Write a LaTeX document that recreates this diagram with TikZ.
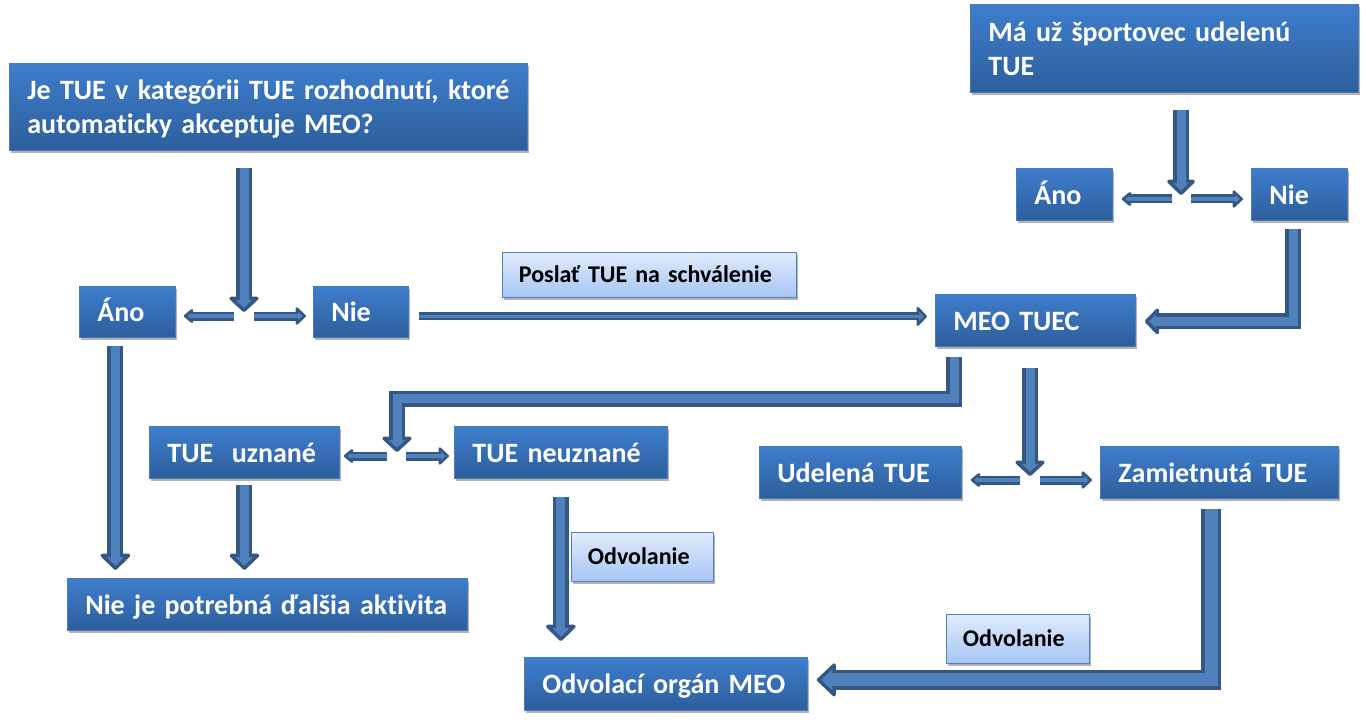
\documentclass[tikz,border=0pt]{standalone}
\usepackage{fontspec}
\setmainfont{Carlito}[Ligatures=NoCommon]
\usetikzlibrary{arrows.meta,calc,shadows}
\definecolor{boxtop}{RGB}{62,126,204}
\definecolor{boxbot}{RGB}{45,94,156}
\definecolor{boxedge}{RGB}{72,122,188}
\definecolor{afill}{RGB}{79,129,189}
\definecolor{aedge}{RGB}{52,87,131}
\definecolor{labtop}{RGB}{224,235,252}
\definecolor{labbot}{RGB}{166,197,245}
\definecolor{labedge}{RGB}{79,129,189}
\newcommand\blockarr[5]{%
  \pgfmathsetlengthmacro\arrinner{#2pt-2*#5pt}%
  \pgfmathsetlengthmacro\arrshort{#4pt-#5pt-1pt}%
  \draw[draw=aedge, line width=#2pt, line join=miter,
        -{Triangle[width=#3pt, length=#4pt, fill=afill, line width=#5pt, round]}] #1;
  \draw[draw=afill, line width=\arrinner, line join=miter, shorten >=\arrshort] #1;
}
\tikzset{
  bx/.style={draw=boxedge, line width=0.8pt, top color=boxtop, bottom color=boxbot,
    anchor=north west, inner xsep=18pt, inner ysep=0pt, align=left, text=white,
    font=\fontsize{28}{34}\selectfont\bfseries, text height=20pt, text depth=0pt,
    drop shadow={shadow xshift=2pt, shadow yshift=-3pt, opacity=0.3, fill=black}},
  twoline/.style={text depth=34pt},
  lab/.style={draw=labedge, line width=0.8pt, top color=labtop, bottom color=labbot,
    anchor=north west, inner xsep=16.5pt, inner ysep=0pt, align=left, text=black,
    font=\fontsize{24}{29}\selectfont\bfseries, text height=15.2pt, text depth=0pt,
    drop shadow={shadow xshift=2pt, shadow yshift=-3pt, opacity=0.3, fill=black}}
}
\begin{document}
\begin{tikzpicture}[x=1pt, y=-1pt]
\useasboundingbox (0,0) rectangle (1366,722);
% boxes
\node[bx, twoline, text width=482pt, minimum height=87pt] (q1) at (9,63)
  {\mbox{Je TUE v kategórii TUE rozhodnutí, ktoré}\\\mbox{automaticky akceptuje MEO?}};
\node[bx, twoline, text width=352pt, minimum height=88pt] (q2) at (970,4)
  {\mbox{Má už športovec udelenú}\\TUE};
\node[bx, text width=60pt, minimum height=51pt] (ano1) at (79,286) {Áno};
\node[bx, text width=59pt, minimum height=51pt] (nie1) at (313,286) {Nie};
\node[bx, text width=60pt, minimum height=52pt] (ano2) at (1016,168) {Áno};
\node[bx, text width=60pt, minimum height=52pt] (nie2) at (1251,168) {Nie};
\node[bx, text width=164pt, minimum height=52pt] (meo) at (935,294) {\mbox{MEO TUEC}};
\node[bx, text width=154pt, minimum height=52pt] (uzn) at (149,426) {\mbox{TUE\ \ uznané}};
\node[bx, text width=177pt, minimum height=52pt] (neuzn) at (454,426) {\mbox{TUE neuznané}};
\node[bx, text width=166pt, minimum height=52pt] (udel) at (759,446) {\mbox{Udelená TUE}};
\node[bx, text width=202pt, minimum height=52pt] (zam) at (1100,446) {\mbox{Zamietnutá TUE}};
\node[bx, text width=364pt, minimum height=52pt] (nieje) at (67,578) {\mbox{Nie je potrebná ďalšia aktivita}};
\node[bx, text width=247pt, minimum height=53pt] (odv) at (524,657) {\mbox{Odvolací orgán MEO}};
% junctions
\coordinate (j1) at (244,312);
\coordinate (j2) at (1181,195);
\coordinate (j3) at (397,452);
\coordinate (j4) at (1030,476);
% arrows
\blockarr{($(j1 |- q1.south)+(0,17)$) -- (j1)}{16}{34}{16}{3.5}
\blockarr{($(j1)+(-10,4)$) -- ($(j1 -| ano1.east)+(8,4)$)}{9}{16}{10}{2.5}
\blockarr{($(j1)+(10,4)$) -- ($(j1 -| nie1.west)+(-7,4)$)}{9}{20}{11}{2.5}
\blockarr{($(nie1.east)+(10,4.5)$) -- ($(nie1.east -| meo.west)+(-8,4.5)$)}{8}{22}{11}{2.5}
\blockarr{($(j2 |- q2.south)+(0,17)$) -- (j2)}{16}{32}{16}{3.5}
\blockarr{($(j2)+(-9,4)$) -- ($(j2 -| ano2.east)+(9,4)$)}{9}{16}{10}{2.5}
\blockarr{($(j2)+(10,4)$) -- ($(j2 -| nie2.west)+(-8,4)$)}{9}{20}{11}{2.5}
\blockarr{($(nie2.south)+(-6,8)$) |- ($(meo.east)+(9,1)$)}{16}{30}{15}{3.5}
\blockarr{($(meo.south west)+(19,10)$) -- ++(0,42) -| (j3)}{16}{34}{16}{3.5}
\blockarr{($(j3)+(-10,4)$) -- ($(j3 -| uzn.east)+(4,4)$)}{9}{16}{10}{2.5}
\blockarr{($(j3)+(9,4)$) -- ($(j3 -| neuzn.west)+(-5,4)$)}{9}{20}{11}{2.5}
\blockarr{($(j4 |- meo.south)+(0,21)$) -- (j4)}{16}{34}{16}{3.5}
\blockarr{($(j4)+(-10,4)$) -- ($(j4 -| udel.east)+(9,4)$)}{9}{16}{10}{2.5}
\blockarr{($(j4)+(10,4)$) -- ($(j4 -| zam.west)+(-8,4)$)}{9}{20}{11}{2.5}
\blockarr{($(ano1.south)+(-12,8)$) -- ($(ano1.south |- nieje.north)+(-12,-8)$)}{16}{34}{17}{3.5}
\blockarr{($(uzn.south)+(0,6)$) -- ($(uzn.south |- nieje.north)+(0,-8)$)}{16}{34}{17}{3.5}
\blockarr{($(neuzn.south)+(0,18)$) -- ($(neuzn.south |- odv.north)+(0,-16)$)}{16}{34}{17}{3.5}
\blockarr{($(zam.south west)+(111,10)$) |- ($(odv.east)+(9,-4)$)}{20}{37}{20}{3.5}
% labels
\node[lab, text width=261pt, minimum height=45pt] (l1) at (502,252) {\mbox{Poslať TUE na schválenie}};
\node[lab, text width=109pt, minimum height=49pt] (l2) at (571,532) {\mbox{Odvolanie}};
\node[lab, text width=110pt, minimum height=49pt] (l3) at (946,614) {\mbox{Odvolanie}};
\end{tikzpicture}
\end{document}
